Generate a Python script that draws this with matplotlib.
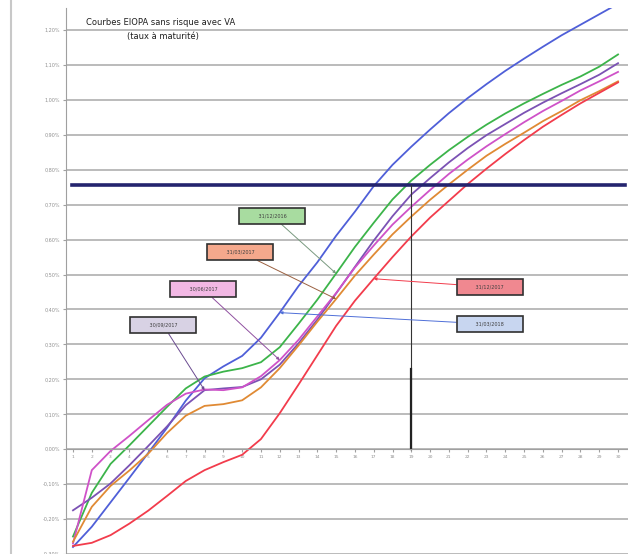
import numpy as np
import matplotlib.pyplot as plt
from matplotlib.lines import Line2D

# Maturités (années) et taux (%) des courbes EIOPA sans risque avec VA
maturites = np.arange(1, 31)

taux_bleu = [-0.280, -0.222, -0.152, -0.082, -0.011, 0.061, 0.139, 0.203, 0.237, 0.267,
             0.319, 0.391, 0.467, 0.535, 0.611, 0.680, 0.753, 0.814, 0.866, 0.915,
             0.962, 1.005, 1.045, 1.083, 1.118, 1.152, 1.185, 1.215, 1.245, 1.275]
taux_vert = [-0.250, -0.125, -0.042, 0.011, 0.066, 0.121, 0.174, 0.208, 0.222, 0.232,
             0.249, 0.292, 0.359, 0.428, 0.503, 0.579, 0.648, 0.715, 0.769, 0.814,
             0.856, 0.894, 0.929, 0.961, 0.990, 1.017, 1.043, 1.067, 1.095, 1.130]
taux_violet = [-0.175, -0.139, -0.098, -0.046, 0.009, 0.065, 0.126, 0.169, 0.174, 0.178,
               0.200, 0.242, 0.303, 0.371, 0.446, 0.522, 0.597, 0.667, 0.729, 0.776,
               0.821, 0.862, 0.899, 0.931, 0.963, 0.992, 1.019, 1.045, 1.072, 1.105]
taux_rose = [-0.270, -0.060, -0.005, 0.038, 0.083, 0.127, 0.159, 0.171, 0.169, 0.177,
             0.209, 0.255, 0.313, 0.380, 0.447, 0.520, 0.583, 0.643, 0.694, 0.742,
             0.788, 0.829, 0.867, 0.902, 0.936, 0.968, 0.997, 1.027, 1.053, 1.080]
taux_orange = [-0.265, -0.165, -0.105, -0.061, -0.013, 0.046, 0.096, 0.124, 0.129, 0.140,
               0.177, 0.232, 0.297, 0.365, 0.430, 0.497, 0.557, 0.615, 0.666, 0.714,
               0.758, 0.800, 0.840, 0.874, 0.906, 0.939, 0.968, 0.999, 1.025, 1.053]
taux_rouge = [-0.277, -0.268, -0.246, -0.213, -0.176, -0.134, -0.091, -0.060, -0.037, -0.016,
              0.029, 0.103, 0.185, 0.269, 0.353, 0.425, 0.488, 0.550, 0.609, 0.663,
              0.711, 0.759, 0.803, 0.845, 0.885, 0.923, 0.957, 0.990, 1.020, 1.050]

dates = ['31/12/2016', '31/03/2017', '30/06/2017', '30/09/2017', '31/12/2017', '31/03/2018']
niveau = 0.757
maturite_repere = 19

fig = plt.figure(figsize=(6.28, 5.54), dpi=100)
ax = fig.add_axes([66 / 628, 0, 562 / 628, 546 / 554])

# bordure gauche du graphique
fig.add_artist(Line2D([11 / 628, 11 / 628], [0, 1], color='#c8c8c8', lw=1.5))

series = [
    (taux_bleu, '#4f5fd8'),
    (taux_vert, '#3cb44a'),
    (taux_violet, '#7b52b4'),
    (taux_rose, '#cf52c8'),
    (taux_orange, '#e08a34'),
    (taux_rouge, '#f23c4c'),
]
for taux, couleur in series:
    ax.plot(maturites, taux, color=couleur, lw=1.3)

# niveau de référence et repère vertical
ax.axhline(niveau, xmin=0.011, xmax=0.995, color='#24246e', lw=2.6)
ax.plot([maturite_repere, maturite_repere], [0, niveau], color='#333333', lw=0.8)
ax.plot([maturite_repere, maturite_repere], [0, 0.23], color='#222222', lw=1.6)

ax.set_xlim(0.628, 30.53)
ax.set_ylim(-0.297, 1.263)
for s in ['top', 'right']:
    ax.spines[s].set_visible(False)
ax.spines['left'].set_color('#a0a0a0')
ax.spines['bottom'].set_position(('data', 0))
ax.spines['bottom'].set_color('#a0a0a0')

yt = np.arange(-0.3, 1.21, 0.1)
ax.set_yticks(yt)
ax.set_yticklabels([f'{v:.2f}%'.replace('.', ',').replace('-0,00', '0,00') for v in yt],
                   fontsize=3.5, color='#909090')
ax.set_xticks(maturites)
ax.set_xticklabels([str(m) for m in maturites], fontsize=3.2, color='#909090')
ax.tick_params(axis='both', length=2, color='#a0a0a0', pad=2)
ax.grid(axis='y', color='#a8a8a8', lw=1.1)
ax.set_axisbelow(True)

ax.text(0.035, 0.974, 'Courbes EIOPA sans risque avec VA', transform=ax.transAxes,
        fontsize=6, color='#202020', va='center')
ax.text(0.173, 0.947, '(taux à maturité)', transform=ax.transAxes,
        fontsize=6, color='#202020', va='center', ha='center')

# étiquettes des courbes
etiquettes = [
    (taux_vert, '#a8dca0', '#7a9a80', (0.367, 0.619), 14),
    (taux_orange, '#f4a88c', '#9a6040', (0.310, 0.553), 14),
    (taux_rose, '#f2b8e4', '#9050a0', (0.244, 0.485), 11),
    (taux_violet, '#d8d2e4', '#6a4a90', (0.173, 0.419), 7),
    (taux_rouge, '#f08890', '#f23c4c', (0.754, 0.489), 16),
    (taux_bleu, '#c8d6f0', '#4f6fd8', (0.754, 0.421), 11),
]
for (taux, fond, trait, pos, k), d in zip(etiquettes, dates):
    ax.annotate('         ' + d + '         ', xy=(maturites[k], taux[k]), xytext=pos,
                textcoords='axes fraction', fontsize=3.5, color='#404040',
                ha='center', va='center',
                bbox=dict(boxstyle='square,pad=1.1', fc=fond, ec='#303030', lw=1.2),
                arrowprops=dict(arrowstyle='-|>', color=trait, lw=0.7,
                                mutation_scale=4, shrinkA=0, shrinkB=0))

fig.savefig('out.png', dpi=100)
